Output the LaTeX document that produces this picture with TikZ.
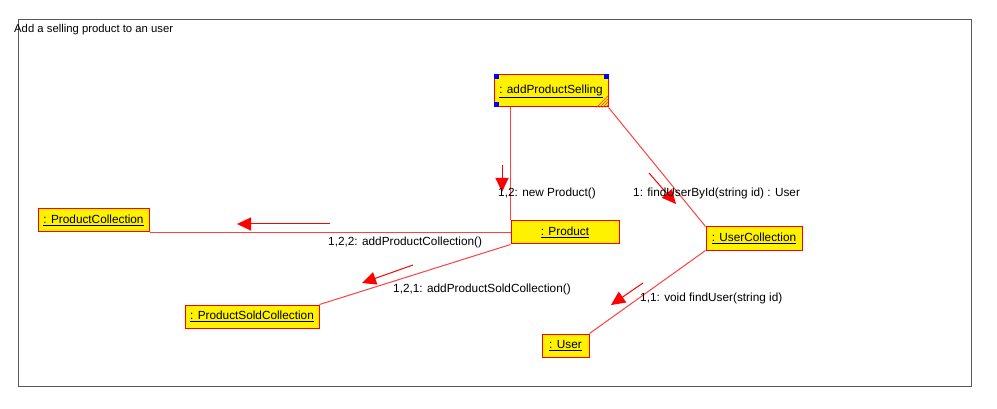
\documentclass[tikz,border=0pt]{standalone}
\usepackage{fontspec}
\setmainfont{Liberation Sans}
\usetikzlibrary{arrows.meta}
\begin{document}
\begin{tikzpicture}[x=1pt,y=-1pt,
  font=\fontsize{11.8}{14}\selectfont,
  obj/.style={draw=red, line width=1pt, fill=yellow, inner sep=1pt, anchor=center},
  link/.style={draw=red!75, line width=1pt},
  msg/.style={draw=red, line width=1pt, -{Triangle[length=14pt,width=13pt]}},
  lbl/.style={inner sep=0pt, anchor=west},
  handle/.style={fill=blue, draw=none}]
  \useasboundingbox (0,0) rectangle (997,409);
  \fill[white] (0,0) rectangle (997,409);

  % diagram frame and title
  \draw[line width=1pt, black!65] (18,20) rectangle (971,386);
  \node[lbl, font=\fontsize{11.3}{13}\selectfont] (title) at (14,29.5) {Add a selling product to an user};

  % objects
  \node[obj, minimum width=114pt, minimum height=32pt] (aps) at (551,91) {\underline{: addProductSelling}};
  \node[obj, minimum width=108pt, minimum height=23pt] (prod) at (565,232.5) {\underline{: Product}};
  \node[obj, minimum width=96pt, minimum height=23pt] (uc) at (754,238.5) {\underline{: UserCollection}};
  \node[obj, minimum width=111pt, minimum height=23pt] (pc) at (93.5,220.5) {\underline{: ProductCollection}};
  \node[obj, minimum width=134pt, minimum height=23pt] (psc) at (252,316.5) {\underline{: ProductSoldCollection}};
  \node[obj, minimum width=47pt, minimum height=23pt] (user) at (565.5,345.5) {\underline{: User}};

  % selection handles on the active object
  \fill[handle] (aps.north west) rectangle ++(5,5);
  \fill[handle] ([shift={(-5,0)}]aps.north east) rectangle ++(5,5);
  \fill[handle] ([shift={(0,-5)}]aps.south west) rectangle ++(5,5);
  \foreach \d in {3,6,9,12} {
    \draw[red!80, line width=0.7pt] ([shift={(-\d,0)}]aps.south east) -- ([shift={(0,-\d)}]aps.south east);
  }

  % links
  \draw[link] (prod.north west) -- (prod.north west |- aps.south);
  \draw[link] (aps.south east) -- (uc.north west);
  \draw[link] (prod.west) -- (prod.west -| pc.east);
  \draw[link] (prod.south west) -- (psc.north east);
  \draw[link] (uc.south west) -- (user.north east);

  % messages
  \coordinate (m1a) at (502,165);  \coordinate (m1b) at (502,192);
  \coordinate (m2a) at (649,173);  \coordinate (m2b) at (676,204);
  \coordinate (m3a) at (330,224);  \coordinate (m3b) at (237,224);
  \coordinate (m4a) at (413,265);  \coordinate (m4b) at (362,283);
  \coordinate (m5a) at (643,283);  \coordinate (m5b) at (611,305);
  \draw[msg] (m1a) -- (m1b);
  \draw[msg] (m2a) -- (m2b);
  \draw[msg] (m3a) -- (m3b);
  \draw[msg] (m4a) -- (m4b);
  \draw[msg] (m5a) -- (m5b);

  \node[lbl] (l1) at (498,193.5) {1,2: new Product()};
  \node[lbl] (l2) at (633,193.5) {1: findUserById(string id) : User};
  \node[lbl] (l3) at (328,242.5) {1,2,2: addProductCollection()};
  \node[lbl] (l4) at (393,289.5) {1,2,1: addProductSoldCollection()};
  \node[lbl] (l5) at (640,298.5) {1,1: void findUser(string id)};
\end{tikzpicture}
\end{document}
